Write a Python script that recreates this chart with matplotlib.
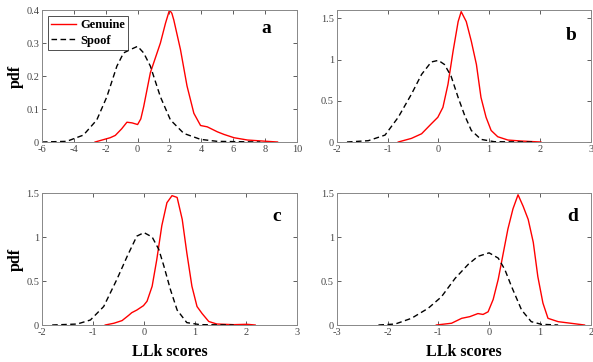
import numpy as np
import matplotlib
matplotlib.use("Agg")
import matplotlib.pyplot as plt

plt.rcParams['font.family'] = ['Liberation Serif', 'DejaVu Serif']

# values (x, pdf)
a_gen_x = [-2.67, -1.72, -1.4, -1.0, -0.67, -0.35, 0.0, 0.2, 0.38, 0.8, 1.43, 1.75, 2.0, 2.15, 2.27, 2.69, 3.1, 3.53, 3.95, 4.37, 5.0, 5.42, 6.05, 6.9, 8.15, 8.78]
a_gen_y = [0.0, 0.013, 0.02, 0.04, 0.06, 0.058, 0.053, 0.07, 0.107, 0.21, 0.3, 0.36, 0.4, 0.39, 0.37, 0.28, 0.17, 0.087, 0.05, 0.046, 0.031, 0.023, 0.013, 0.006, 0.002, 0.0]
a_spf_x = [-6.0, -4.45, -3.4, -2.56, -1.93, -1.3, -0.88, -0.46, 0.0, 0.38, 0.8, 1.43, 2.06, 2.9, 3.95, 5.0, 7.7]
a_spf_y = [0.0, 0.002, 0.021, 0.067, 0.137, 0.23, 0.27, 0.28, 0.29, 0.27, 0.23, 0.137, 0.067, 0.026, 0.008, 0.002, 0.0]

b_gen_x = [-0.79, -0.53, -0.33, -0.14, -0.01, 0.09, 0.19, 0.29, 0.39, 0.45, 0.55, 0.65, 0.75, 0.84, 0.94, 1.04, 1.17, 1.37, 1.63, 2.02]
b_gen_y = [0.0, 0.044, 0.10, 0.22, 0.30, 0.42, 0.70, 1.10, 1.46, 1.58, 1.46, 1.22, 0.94, 0.54, 0.30, 0.14, 0.064, 0.024, 0.012, 0.0]
b_spf_x = [-1.8, -1.38, -1.05, -0.79, -0.53, -0.33, -0.14, 0.0, 0.12, 0.25, 0.39, 0.52, 0.65, 0.84, 1.1, 1.89]
b_spf_y = [0.0, 0.016, 0.084, 0.30, 0.58, 0.82, 0.97, 0.99, 0.94, 0.80, 0.54, 0.32, 0.14, 0.032, 0.004, 0.0]

c_gen_x = [-0.76, -0.59, -0.43, -0.30, -0.24, -0.14, -0.01, 0.06, 0.16, 0.25, 0.35, 0.45, 0.55, 0.65, 0.75, 0.84, 0.94, 1.04, 1.14, 1.27, 1.43, 1.76, 2.02, 2.18]
c_gen_y = [0.0, 0.02, 0.05, 0.11, 0.14, 0.17, 0.22, 0.27, 0.44, 0.74, 1.13, 1.39, 1.47, 1.45, 1.20, 0.82, 0.44, 0.21, 0.13, 0.04, 0.011, 0.004, 0.008, 0.0]
c_spf_x = [-1.8, -1.31, -1.05, -0.79, -0.53, -0.33, -0.14, 0.0, 0.16, 0.29, 0.39, 0.52, 0.65, 0.84, 1.1, 1.76]
c_spf_y = [0.0, 0.011, 0.057, 0.21, 0.52, 0.78, 1.01, 1.05, 1.00, 0.86, 0.67, 0.40, 0.17, 0.027, 0.004, 0.0]

d_gen_x = [-1.04, -0.74, -0.54, -0.38, -0.22, -0.12, -0.02, 0.08, 0.18, 0.28, 0.37, 0.47, 0.57, 0.67, 0.77, 0.87, 0.96, 1.06, 1.16, 1.36, 1.62, 1.88]
d_gen_y = [0.0, 0.02, 0.076, 0.095, 0.13, 0.12, 0.15, 0.29, 0.52, 0.82, 1.09, 1.32, 1.48, 1.35, 1.20, 0.94, 0.55, 0.25, 0.076, 0.038, 0.019, 0.0]
d_spf_x = [-2.18, -1.85, -1.53, -1.2, -0.94, -0.67, -0.41, -0.22, 0.0, 0.18, 0.31, 0.44, 0.64, 0.83, 1.03, 1.36]
d_spf_y = [0.0, 0.011, 0.076, 0.19, 0.32, 0.53, 0.69, 0.78, 0.82, 0.76, 0.63, 0.44, 0.17, 0.038, 0.008, 0.0]

panels = [
    ("a", a_gen_x, a_gen_y, a_spf_x, a_spf_y, (-6, 10), (0, 0.4), [-6, -4, -2, 0, 2, 4, 6, 8, 10], [0, 0.1, 0.2, 0.3, 0.4]),
    ("b", b_gen_x, b_gen_y, b_spf_x, b_spf_y, (-2, 3), (0, 1.6), [-2, -1, 0, 1, 2, 3], [0, 0.5, 1, 1.5]),
    ("c", c_gen_x, c_gen_y, c_spf_x, c_spf_y, (-2, 3), (0, 1.5), [-2, -1, 0, 1, 2, 3], [0, 0.5, 1, 1.5]),
    ("d", d_gen_x, d_gen_y, d_spf_x, d_spf_y, (-3, 2), (0, 1.5), [-3, -2, -1, 0, 1, 2], [0, 0.5, 1, 1.5]),
]

pos = [
    [0.0708, 0.6077, 0.430, 0.3646],
    [0.568, 0.6077, 0.428, 0.3646],
    [0.0708, 0.1022, 0.430, 0.3646],
    [0.568, 0.1022, 0.428, 0.3646],
]
letter_pos = [(0.88, 0.86), (0.925, 0.81), (0.92, 0.82), (0.93, 0.82)]

fig = plt.figure(figsize=(5.93, 3.62), dpi=100)
for i, (lab, gx, gy, sx, sy, xl, yl, xt, yt) in enumerate(panels):
    ax = fig.add_axes(pos[i])
    ax.plot(gx, gy, color='red', lw=1.0, label='Genuine')
    ax.plot(sx, sy, color='black', lw=1.0, ls=(0, (4, 2.5)), label='Spoof')
    ax.set_xlim(*xl)
    ax.set_ylim(*yl)
    ax.set_xticks(xt)
    ax.set_yticks(yt)
    ax.set_xticklabels([("%g" % v) for v in xt])
    ax.set_yticklabels([("%g" % v) for v in yt])
    ax.tick_params(direction='in', top=True, right=True, length=3, width=0.6,
                   labelsize=7.5, colors='#444444', pad=2)
    for s in ax.spines.values():
        s.set_color('#888888')
        s.set_linewidth(0.7)
    ax.text(letter_pos[i][0], letter_pos[i][1], lab, transform=ax.transAxes, fontsize=14,
            fontweight='bold', ha='center', va='center')
    if i in (0, 2):
        ax.set_ylabel('pdf', fontsize=11.5, fontweight='bold', labelpad=2)
    if i in (2, 3):
        ax.set_xlabel('LLk scores', fontsize=11.5, fontweight='bold', labelpad=5)
    if i == 0:
        leg = ax.legend(loc='upper left', frameon=True, fancybox=False,
                        prop={'weight': 'bold', 'size': 9},
                        borderpad=0.25, handlelength=2.0, handletextpad=0.3,
                        labelspacing=0.25, borderaxespad=0.5)
        leg.get_frame().set_edgecolor('#222222')
        leg.get_frame().set_linewidth(0.7)

fig.savefig("out.png", dpi=100)
